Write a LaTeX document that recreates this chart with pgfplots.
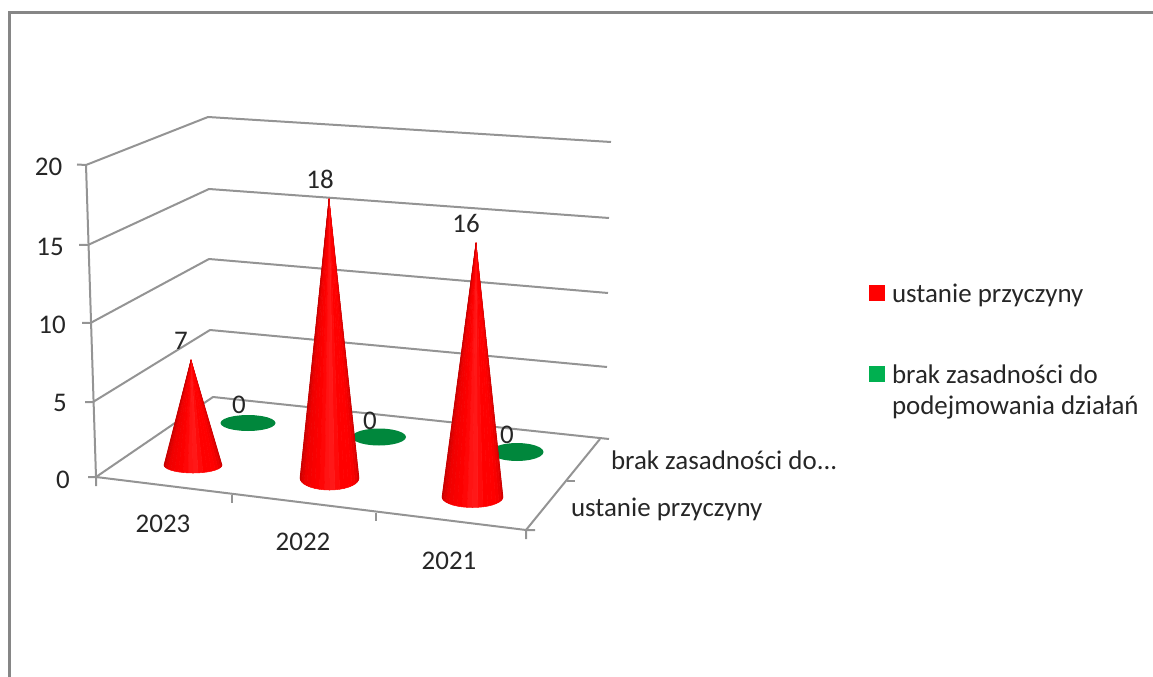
\documentclass[border=0pt]{standalone}
\usepackage{fontspec}
\setmainfont{Carlito}
\usepackage{pgfplots}
\usepackage{pgfplotstable}
\pgfplotsset{compat=1.18}
\definecolor{gridc}{RGB}{148,148,148}
\definecolor{framec}{RGB}{134,134,134}
\definecolor{textc}{RGB}{38,38,38}
\definecolor{legred}{RGB}{255,0,0}
\definecolor{leggreen}{RGB}{0,176,80}
\definecolor{flatgreen}{RGB}{0,135,60}
\pgfplotstableread{
a h m
0 1 5
0 0 5
10 0 5
10 1 15
10 0 15
20 0 15
20 1 25
20 0 25
30 0 25
30 1 35
30 0 35
40 0 35
40 1 45
40 0 45
50 0 45
50 1 55
50 0 55
60 0 55
60 1 65
60 0 65
70 0 65
70 1 75
70 0 75
80 0 75
80 1 85
80 0 85
90 0 85
90 1 95
90 0 95
100 0 95
100 1 105
100 0 105
110 0 105
110 1 115
110 0 115
120 0 115
120 1 125
120 0 125
130 0 125
130 1 135
130 0 135
140 0 135
140 1 145
140 0 145
150 0 145
150 1 155
150 0 155
160 0 155
160 1 165
160 0 165
170 0 165
170 1 175
170 0 175
180 0 175
}\conemesh
\pgfplotstableread{
a b
0 0
15 0
30 0
45 0
60 0
75 0
90 0
105 0
120 0
135 0
150 0
165 0
180 0
195 0
210 0
225 0
240 0
255 0
270 0
285 0
300 0
315 0
330 0
345 0
360 0
}\ringpts
% cx, cy, rx, ry, lean of apex, value, pixels per unit at this depth
\newcommand\cone[7]{%
  \addplot[patch,patch type=triangle,shader=flat,point meta=\thisrow{m}]
    table[x expr={#1+(1-\thisrow{h})*#3*cos(\thisrow{a})+\thisrow{h}*#5},
          y expr={#2+(1-\thisrow{h})*#4*sin(\thisrow{a})-\thisrow{h}*#7*#6}]{\conemesh};
}
\newcommand\disc[4]{%
  \addplot[draw=none,fill=flatgreen]
    table[x expr={#1+#3*cos(\thisrow{a})},y expr={#2+#4*sin(\thisrow{a})}]{\ringpts};
}
\newcommand\gline[1]{\addplot[gridc,line width=1.5pt,line join=round] coordinates {#1};}
\tikzset{lbl/.style={font=\fontsize{20.2}{22.5}\selectfont,text=textc,inner sep=0pt,outer sep=0pt}}
\begin{document}
\begin{tikzpicture}
\path[use as bounding box] (0,0) rectangle (864.75pt,507.75pt);
\begin{axis}[
  at={(0,0)},anchor=south west,
  scale only axis,width=864.75pt,height=507.75pt,
  hide axis,
  xmin=0,xmax=1153,ymin=0,ymax=677,y dir=reverse,
  colormap={conemap}{rgb255(0)=(185,0,0) rgb255(18)=(228,0,0) rgb255(40)=(255,0,0) rgb255(68)=(255,0,0) rgb255(88)=(255,28,28) rgb255(110)=(255,0,0) rgb255(145)=(240,0,0) rgb255(165)=(215,0,0) rgb255(180)=(190,0,0)},
  point meta min=0,point meta max=180,
]
% frame
\addplot[framec,line width=2pt] coordinates {(9.5,680)(9.5,12.5)(1156,12.5)};
% walls
\gline{(77,164.5)(86,165)(208,117)(611,142)}
\gline{(79,245)(88,245)(209,189)(609,218)}
\gline{(82,323)(90.5,323)(209,259)(608,293)}
\gline{(85,402)(93,402)(210,330)(607,367)}
\gline{(86,165)(96,477)}
% floor
\gline{(88,477)(96,477)(213,397)(609,439)}
\gline{(96,486)(96,477)(526,530)(535,530)}
\gline{(526,539)(526,530)(600,439)}
\gline{(232,495)(232,503)}
\gline{(376,513)(376,521)}
\gline{(567,481)(575,481)}
% zero-height series
\disc{248}{423}{27.5}{8}
\disc{379}{437}{27}{8.5}
\disc{517}{452}{26.5}{9}
% cones
\cone{193}{465}{29}{8}{-2}{7}{15}
\cone{329.5}{478}{29.5}{12}{-0.5}{18}{15.5}
\cone{472.5}{497}{30.5}{10.5}{3.5}{16}{15.875}
% value labels
\node[lbl,anchor=base] at (axis cs:181,349.5) {7};
\node[lbl,anchor=base] at (axis cs:239,413) {0};
\node[lbl,anchor=base] at (axis cs:320,189) {18};
\node[lbl,anchor=base] at (axis cs:370,429) {0};
\node[lbl,anchor=base] at (axis cs:466,233) {16};
\node[lbl,anchor=base] at (axis cs:507,443) {0};
% value axis
\node[lbl,anchor=base] at (axis cs:48.5,176) {20};
\node[lbl,anchor=base] at (axis cs:50,256) {15};
\node[lbl,anchor=base] at (axis cs:52,334) {10};
\node[lbl,anchor=base] at (axis cs:60,411) {5};
\node[lbl,anchor=base] at (axis cs:63,488) {0};
% categories
\node[lbl,anchor=base] at (axis cs:163,532) {2023};
\node[lbl,anchor=base] at (axis cs:303,550) {2022};
\node[lbl,anchor=base] at (axis cs:449,569) {2021};
% series axis
\node[lbl,anchor=base west] at (axis cs:611,469) {brak zasadności do...};
\node[lbl,anchor=base west] at (axis cs:571,516) {ustanie przyczyny};
% legend
\addplot[only marks,mark=square*,mark size=5.6pt,mark options={draw=legred,fill=legred,line width=0pt}] coordinates {(877,293)};
\addplot[only marks,mark=square*,mark size=5.6pt,mark options={draw=leggreen,fill=leggreen,line width=0pt}] coordinates {(877,374)};
\node[lbl,anchor=base west] at (axis cs:892,302) {ustanie przyczyny};
\node[lbl,anchor=base west] at (axis cs:892,383) {brak zasadności do};
\node[lbl,anchor=base west] at (axis cs:892,414) {podejmowania działań};
\end{axis}
\end{tikzpicture}
\end{document}
